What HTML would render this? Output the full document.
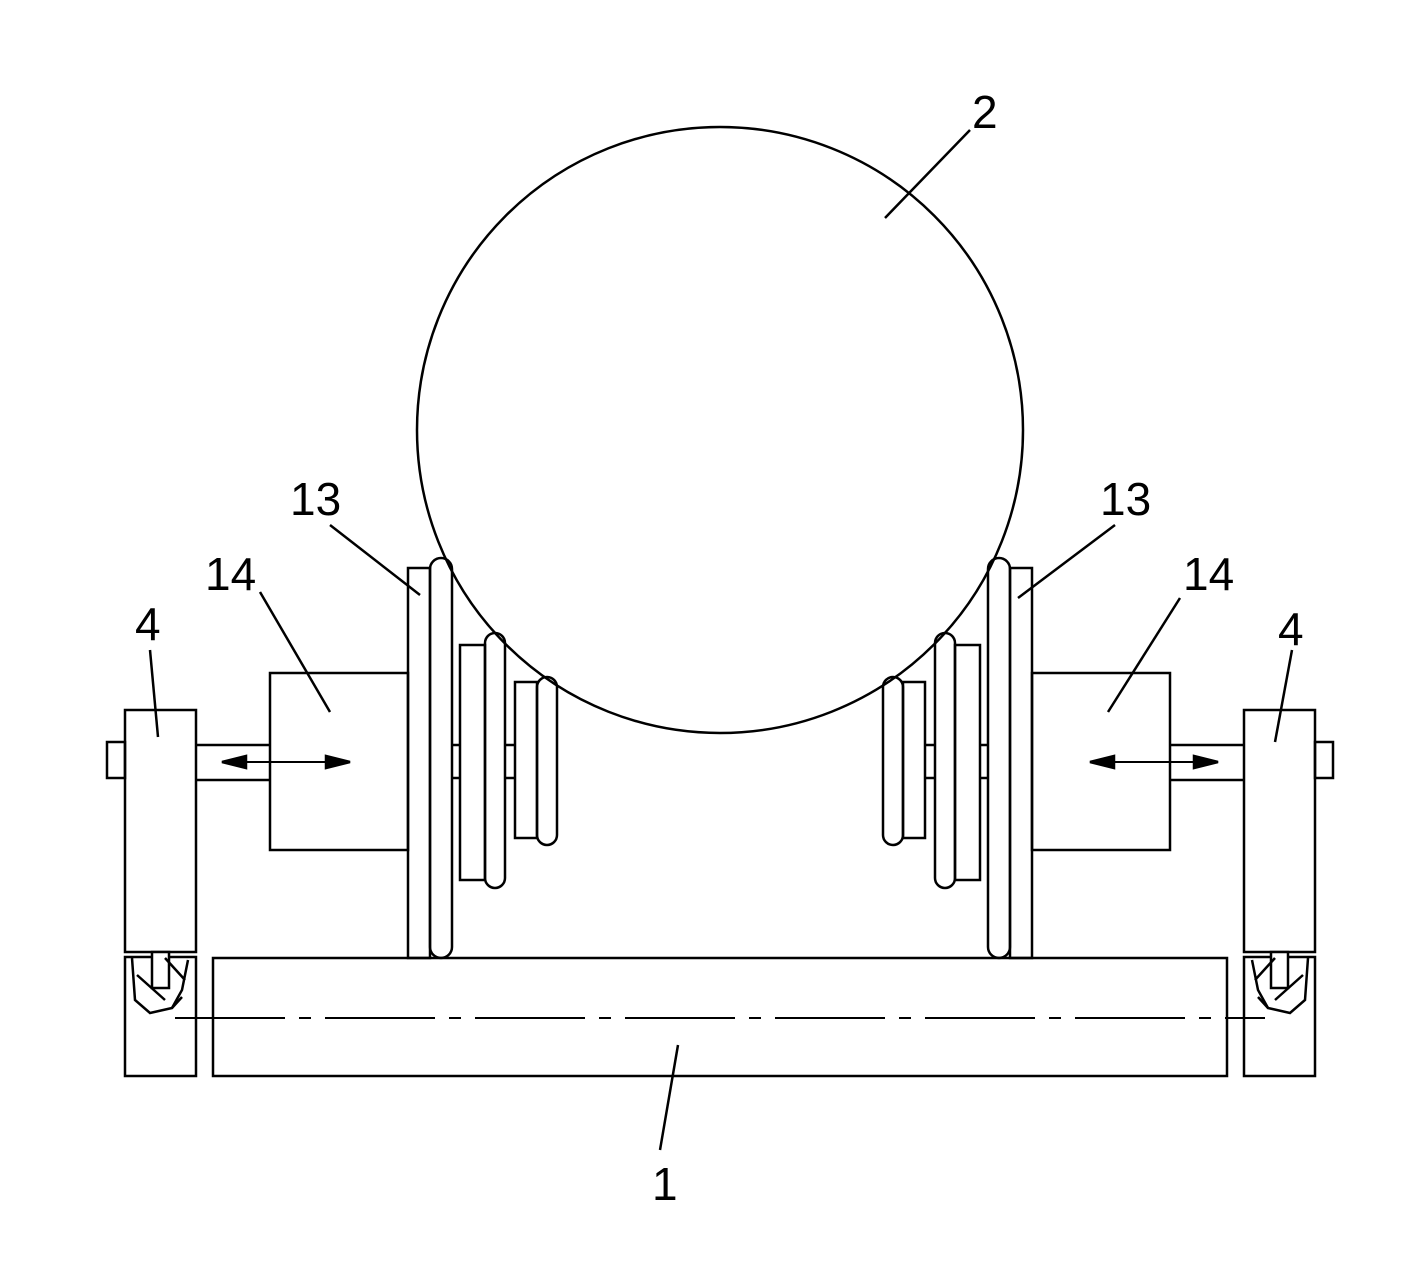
<!DOCTYPE html>
<html><head><style>html,body{margin:0;padding:0;background:#fff}</style></head>
<body>
<svg width="1421" height="1259" viewBox="0 0 1421 1259" xmlns="http://www.w3.org/2000/svg" font-family="Liberation Sans, sans-serif">
<defs>
<g id="side" fill="none" stroke="#000" stroke-width="2.5">
  <rect x="125" y="710" width="71" height="242"/>
  <rect x="107" y="742" width="18" height="36"/>
  <rect x="125" y="957" width="71" height="119"/>
  <path d="M196 745 H270 M196 780 H270"/>
  <rect x="270" y="673" width="138" height="177"/>
  <rect x="408" y="568" width="22" height="390"/>
  <rect x="430" y="558" width="22" height="400" rx="11"/>
  <path d="M452 745 H460 M452 778 H460 M505 745 H515 M505 778 H515"/>
  <rect x="460" y="645" width="25" height="235"/>
  <rect x="485" y="633" width="20" height="255" rx="10"/>
  <rect x="515" y="682" width="22" height="156"/>
  <rect x="537" y="677" width="20" height="168" rx="10"/>
  <rect x="152" y="952" width="17" height="36" fill="#fff"/>
  <path d="M132 958 L135 1000 L150 1013 L172 1008 L182 990 L188 960"/>
  <path d="M137 975 L165 1000 M165 958 L185 980 M172 1008 L182 997"/>
  <path d="M222 762 H350" stroke-width="2"/>
  <path d="M222 762 L246 756 L246 768 Z M350 762 L326 756 L326 768 Z" fill="#000"/>
</g>
</defs>
<circle cx="720" cy="430" r="303" fill="none" stroke="#000" stroke-width="2.5"/>
<use href="#side"/>
<use href="#side" transform="translate(1440,0) scale(-1,1)"/>
<rect x="213" y="958" width="1014" height="118" fill="none" stroke="#000" stroke-width="2.5"/>
<path d="M175 1018 H1265" stroke="#000" stroke-width="2" stroke-dasharray="110,14,12,14"/>
<g stroke="#000" stroke-width="2.5" fill="none">
  <path d="M970 130 L885 218"/>
  <path d="M330 525 L420 595"/>
  <path d="M1115 525 L1018 598"/>
  <path d="M260 592 L330 712"/>
  <path d="M1180 598 L1108 712"/>
  <path d="M150 650 L158 737"/>
  <path d="M1292 650 L1275 742"/>
  <path d="M678 1045 L660 1150"/>
</g>
<g font-size="46" fill="#000">
  <text x="972" y="128">2</text>
  <text x="290" y="515">13</text>
  <text x="1100" y="515">13</text>
  <text x="205" y="590">14</text>
  <text x="1183" y="590">14</text>
  <text x="135" y="640">4</text>
  <text x="1278" y="645">4</text>
  <text x="652" y="1200">1</text>
</g>
</svg>
</body></html>
